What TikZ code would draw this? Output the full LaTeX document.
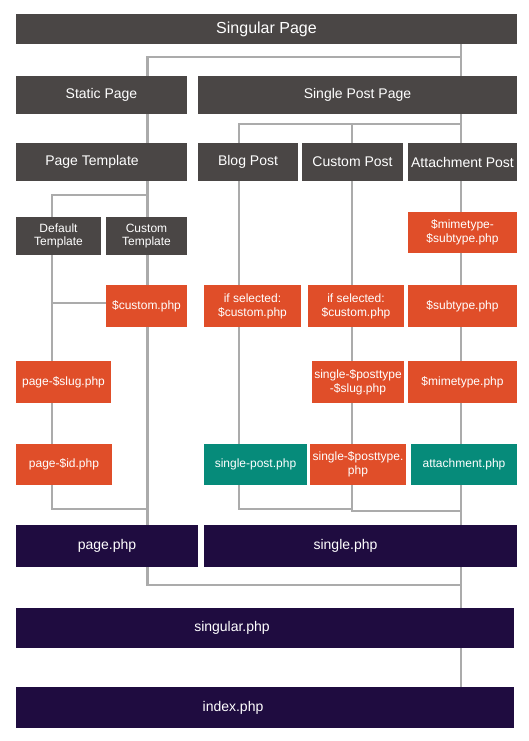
\documentclass[tikz,border=0pt]{standalone}
\usepackage{fontspec}
\setmainfont{Liberation Sans}
\definecolor{hdgrey}{HTML}{4A4645}
\definecolor{tplorange}{HTML}{E04E29}
\definecolor{tplteal}{HTML}{068B7A}
\definecolor{tplpurple}{HTML}{1F0C40}
\definecolor{linkgrey}{HTML}{ABABAB}
\tikzset{
  box/.style={inner sep=0pt, text=white, align=center},
  head/.style={box, fill=hdgrey, font=\fontsize{14}{16}\selectfont},
  subhead/.style={box, fill=hdgrey, font=\fontsize{12}{13.5}\selectfont},
  tpl/.style={box, fill=tplorange, font=\fontsize{12}{14}\selectfont},
  hit/.style={box, fill=tplteal, font=\fontsize{12}{14}\selectfont},
  base/.style={box, fill=tplpurple, font=\fontsize{14}{16}\selectfont},
  boxtext/.style={text=white, inner sep=0pt, font=\fontsize{14}{16}\selectfont},
  link/.style={draw=linkgrey, line width=2.6pt}
}
\begin{document}
\begin{tikzpicture}[x=1pt,y=-1pt]
\useasboundingbox (0,0) rectangle (528,741);
% trunks of the lines
\coordinate (rt) at (461,0);
\coordinate (mt) at (147.5,0);
\coordinate (lt) at (52,0);
\coordinate (bt) at (239,0);
\coordinate (ct) at (352,0);
% junctions
\coordinate (j1) at (461,57);
\coordinate (j2) at (147.5,195);
\coordinate (j3) at (52,303);
\coordinate (j4) at (147.5,509);
\coordinate (j5) at (461,124);
\coordinate (j6) at (352,509);
\coordinate (j7) at (461,511);
\coordinate (j8) at (461,585);
% header boxes
\node[head, minimum width=501pt, minimum height=30pt, font=\fontsize{16}{18}\selectfont] (singpage) at (266.5,29) {Singular Page};
\node[head, minimum width=171pt, minimum height=38pt] (static) at (101.5,95) {Static Page};
\node[head, minimum width=319pt, minimum height=38pt] (spp) at (357.5,95) {Single Post Page};
\node[head, minimum width=171pt, minimum height=38pt, label={[boxtext, xshift=-9.5pt]center:Page Template}] (ptpl) at (101.5,162) {};
\node[head, minimum width=100pt, minimum height=38pt] (blog) at (248,162) {Blog Post};
\node[head, minimum width=101pt, minimum height=38pt] (cpost) at (352.5,162) {Custom Post};
\node[head, minimum width=109pt, minimum height=38pt] (attach) at (462.5,162) {Attachment Post};
\node[subhead, minimum width=85pt, minimum height=38pt] (deftpl) at (58.5,236) {Default\\Template};
\node[subhead, minimum width=81pt, minimum height=38pt] (custpl) at (146.5,236) {Custom\\Template};
% template files
\node[tpl, minimum width=109pt, minimum height=41pt] (mimesub) at (462.5,232.5) {\$mimetype-\\\$subtype.php};
\node[tpl, minimum width=81pt, minimum height=42pt] (custphp) at (146.5,306) {\$custom.php};
\node[tpl, minimum width=97pt, minimum height=42pt] (blogsel) at (252.5,306) {if selected:\\\$custom.php};
\node[tpl, minimum width=96pt, minimum height=42pt] (cpsel) at (356,306) {if selected:\\\$custom.php};
\node[tpl, minimum width=109pt, minimum height=42pt] (subtype) at (462.5,306) {\$subtype.php};
\node[tpl, minimum width=95pt, minimum height=42pt] (slugphp) at (63.5,382) {page-\$slug.php};
\node[tpl, minimum width=92pt, minimum height=42pt] (ptslug) at (358,382) {single-\$posttype\\-\$slug.php};
\node[tpl, minimum width=109pt, minimum height=42pt] (mime) at (462.5,382) {\$mimetype.php};
\node[tpl, minimum width=96pt, minimum height=41pt] (idphp) at (64,464.5) {page-\$id.php};
\node[hit, minimum width=103pt, minimum height=41pt] (spost) at (255.5,464.5) {single-post.php};
\node[tpl, minimum width=96pt, minimum height=41pt] (ptphp) at (358,464.5) {single-\$posttype.\\php};
\node[hit, minimum width=106pt, minimum height=41pt] (attphp) at (464,464.5) {attachment.php};
% fallbacks
\node[base, minimum width=182pt, minimum height=42pt] (pagephp) at (107,546) {page.php};
\node[base, minimum width=313pt, minimum height=42pt, label={[boxtext, xshift=-15pt]center:single.php}] (singlephp) at (360.5,546) {};
\node[base, minimum width=498pt, minimum height=40pt, label={[boxtext, xshift=-33pt]center:singular.php}] (singularphp) at (265,628) {};
\node[base, minimum width=498pt, minimum height=41pt, label={[boxtext, xshift=-32pt]center:index.php}] (indexphp) at (265,707.5) {};
% connectors
\path [link] (singpage.south -| rt) -- (spp.north -| rt);
\path [link] (j1) -| (static.north -| mt);
\path [link] (static.south -| mt) -- (ptpl.north -| mt);
\path [link] (ptpl.south -| mt) -- (custpl.north -| mt);
\path [link] (j2) -| (deftpl.north -| lt);
\path [link] (deftpl.south -| lt) -- (slugphp.north -| lt);
\path [link] (j3) -- (custphp.west |- j3);
\path [link] (slugphp.south -| lt) -- (idphp.north -| lt);
\path [link] (idphp.south -| lt) |- (j4);
\path [link] (custpl.south -| mt) -- (custphp.north -| mt);
\path [link] (custphp.south -| mt) -- (pagephp.north -| mt);
\path [link] (spp.south -| rt) -- (attach.north -| rt);
\path [link] (j5) -| (blog.north -| bt);
\path [link] (j5 -| ct) -- (cpost.north -| ct);
\path [link] (blog.south -| bt) -- (blogsel.north -| bt);
\path [link] (blogsel.south -| bt) -- (spost.north -| bt);
\path [link] (spost.south -| bt) |- (j6);
\path [link] (cpost.south -| ct) -- (cpsel.north -| ct);
\path [link] (cpsel.south -| ct) -- (ptslug.north -| ct);
\path [link] (ptslug.south -| ct) -- (ptphp.north -| ct);
\path [link] (ptphp.south -| ct) |- (j7);
\path [link] (attach.south -| rt) -- (mimesub.north -| rt);
\path [link] (mimesub.south -| rt) -- (subtype.north -| rt);
\path [link] (subtype.south -| rt) -- (mime.north -| rt);
\path [link] (mime.south -| rt) -- (attphp.north -| rt);
\path [link] (attphp.south -| rt) -- (singlephp.north -| rt);
\path [link] (pagephp.south -| mt) |- (j8);
\path [link] (singlephp.south -| rt) -- (singularphp.north -| rt);
\path [link] (singularphp.south -| rt) -- (indexphp.north -| rt);
\end{tikzpicture}
\end{document}
